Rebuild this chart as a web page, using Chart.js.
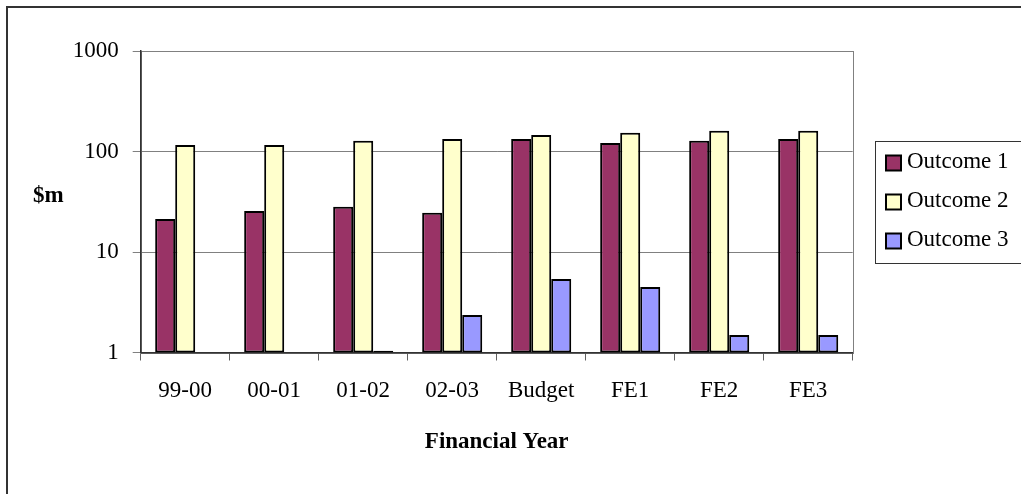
<!DOCTYPE html>
<html>
<head>
<meta charset="utf-8">
<script src="https://cdn.jsdelivr.net/npm/chart.js@4.4.1/dist/chart.umd.min.js"></script>
<style>
  html, body { margin: 0; padding: 0; background: #ffffff; overflow: hidden; }
  #wrap { position: relative; width: 1021px; height: 494px; }
  canvas { display: block; }
</style>
</head>
<body>
<div id="wrap"><canvas id="c" width="1021" height="494"></canvas></div>
<script>
const categories = ['99-00', '00-01', '01-02', '02-03', 'Budget', 'FE1', 'FE2', 'FE3'];
const outcome1 = [21.3, 25.6, 28.2, 24.6, 133, 121.6, 128, 133];
const outcome2 = [116, 116, 128, 133, 146, 154, 161, 161];
const outcome3 = [null, null, 1.04, 2.36, 5.39, 4.48, 1.49, 1.49];
const seriesNames = ['Outcome 1', 'Outcome 2', 'Outcome 3'];
const seriesColors = ['#993366', '#FFFFCC', '#9999FF'];
const yTickValues = [1, 10, 100, 1000];
const yTickLabels = ['1', '10', '100', '1000'];
const yTitle = '$m';
const xTitle = 'Financial Year';

const FONT = "'Liberation Serif', 'Times New Roman', serif";

const decorPlugin = {
  id: 'decor',
  beforeDraw(chart) {
    const ctx = chart.ctx;
    const a = chart.chartArea;
    ctx.save();
    ctx.fillStyle = '#ffffff';
    ctx.fillRect(0, 0, chart.width, chart.height);
    ctx.strokeStyle = '#333333';
    ctx.lineWidth = 2;
    ctx.strokeRect(7, 7, 1200, 700);
    ctx.strokeStyle = '#808080';
    ctx.lineWidth = 1;
    ctx.strokeRect(Math.round(a.left) + 0.5, Math.round(a.top) + 0.5,
                   Math.round(a.right) - Math.round(a.left), Math.round(a.bottom) - Math.round(a.top));
    ctx.restore();
  },
  afterDraw(chart) {
    const ctx = chart.ctx;
    const a = chart.chartArea;
    ctx.save();
    ctx.fillStyle = '#000000';
    ctx.font = "bold 23px " + FONT;
    ctx.textAlign = 'left';
    ctx.textBaseline = 'alphabetic';
    ctx.fillText(yTitle, 33, 202);
    ctx.textAlign = 'center';
    ctx.fillText(xTitle, (a.left + a.right) / 2, 448);
    ctx.strokeStyle = '#333333';
    ctx.lineWidth = 1;
    ctx.strokeRect(875.5, 141.5, 300, 122);
    const centers = [162, 201, 240];
    ctx.font = "23px " + FONT;
    ctx.textAlign = 'left';
    ctx.textBaseline = 'middle';
    chart.data.datasets.forEach((ds, i) => {
      const cy = centers[i];
      ctx.fillStyle = ds.backgroundColor;
      ctx.fillRect(886, cy - 6.5, 15, 15);
      ctx.strokeStyle = '#000000';
      ctx.lineWidth = 2;
      ctx.strokeRect(886, cy - 6.5, 15, 15);
      ctx.fillStyle = '#000000';
      ctx.fillText(ds.label, 907, cy);
    });
    ctx.restore();
  }
};

const datasets = [outcome1, outcome2, outcome3].map((vals, i) => ({
  label: seriesNames[i],
  data: vals,
  backgroundColor: seriesColors[i],
  borderColor: '#000000',
  borderWidth: 2,
  borderSkipped: false,
  categoryPercentage: 0.675,
  barPercentage: 1.0
}));

new Chart(document.getElementById('c'), {
  type: 'bar',
  data: { labels: categories, datasets: datasets },
  options: {
    responsive: false,
    animation: false,
    devicePixelRatio: 1,
    layout: { padding: { left: 0, top: 51, right: 168.3, bottom: 0 } },
    plugins: { legend: { display: false }, title: { display: false }, tooltip: { enabled: false } },
    scales: {
      x: {
        type: 'category',
        offset: true,
        afterFit(scale) { scale.height = 494 - 352.5; },
        grid: { offset: true, drawOnChartArea: false, drawTicks: true, tickLength: 8, color: '#606060', lineWidth: 1 },
        border: { display: true, color: '#333333', width: 1.5 },
        ticks: { color: '#000000', padding: 17, maxRotation: 0, autoSkip: false, font: { family: FONT, size: 23 } }
      },
      y: {
        type: 'logarithmic',
        min: 1,
        max: 1000,
        afterFit(scale) { scale.width = 140.7; },
        afterBuildTicks(scale) { scale.ticks = yTickValues.map(v => ({ value: v })); },
        grid: { color: '#808080', lineWidth: 1, drawTicks: true, tickLength: 8 },
        border: { display: true, color: '#333333', width: 1.5 },
        ticks: {
          color: '#000000', padding: 14,
          font: { family: FONT, size: 23 },
          callback: function (value) { const i = yTickValues.indexOf(value); return i >= 0 ? yTickLabels[i] : ''; }
        }
      }
    }
  },
  plugins: [decorPlugin]
});
</script>
</body>
</html>
